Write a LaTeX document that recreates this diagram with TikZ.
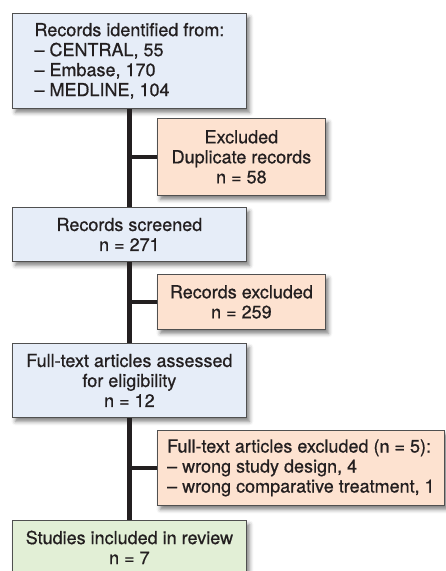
\documentclass[tikz,border=0pt]{standalone}
\usepackage{fontspec}
\setmainfont{TeX Gyre Heros}[FakeBold=0.7]
\usepackage{tikz}
\usetikzlibrary{shadows.blur}

\definecolor{boxblue}{HTML}{E6EDF8}
\definecolor{boxorange}{HTML}{FDE2D0}
\definecolor{boxgreen}{HTML}{E2EFD6}
\definecolor{boxline}{HTML}{505050}
\definecolor{ink}{HTML}{231F20}

\begin{document}
\begin{tikzpicture}[x=1pt, y=-1pt,
		every node/.style={font=\fontsize{18}{20}\selectfont, text=ink},
		flowbox/.style={draw=boxline, line width=0.8pt, inner sep=0pt, anchor=north west,
			align=center, blur shadow={shadow xshift=3pt, shadow yshift=-4pt, shadow blur radius=4pt, shadow opacity=50}},
		leftbox/.style={flowbox, fill=boxblue, minimum width=234pt},
		outbox/.style={flowbox, fill=boxorange},
		spine/.style={draw=ink, line width=4.5pt}]
		\useasboundingbox (0,0) rectangle (446,571);
		% main column
		\node [leftbox, minimum height=95pt, align=left] (ident) at (12,13)
			{Records identified from:\\ -- CENTRAL, 55\\ -- Embase, 170\\ -- MEDLINE, 104};
		\node [leftbox, minimum height=54pt] (screen) at (12,207) {Records screened\\ n = 271};
		\node [leftbox, minimum height=74pt] (full) at (12,343)
			{Full-text articles assessed\\ for eligibility\\ n = 12};
		\node [leftbox, fill=boxgreen, minimum height=54pt] (incl) at (12,520)
			{Studies included in review\\ n = 7};
		% exclusions
		\node [outbox, minimum width=168pt, minimum height=77pt] (dup) at (157,118)
			{Excluded\\ Duplicate records\\ n = 58};
		\node [outbox, minimum width=168pt, minimum height=55pt] (recexcl) at (157,274)
			{Records excluded\\ n = 259};
		\node [outbox, minimum width=287pt, minimum height=75pt, align=left] (fullexcl) at (157,430)
			{Full-text articles excluded (n = 5):\\ -- wrong study design, 4\\ -- wrong comparative treatment, 1};
		% connectors
		\draw [spine] (ident.south) -- (screen.north);
		\draw [spine] (screen.south) -- (full.north);
		\draw [spine] (full.south) -- (incl.north);
		\draw [spine] (dup.west) -- (dup.west -| ident.south);
		\draw [spine] (recexcl.west) -- (recexcl.west -| screen.south);
		\draw [spine] (fullexcl.west) -- (fullexcl.west -| full.south);
\end{tikzpicture}
\end{document}
